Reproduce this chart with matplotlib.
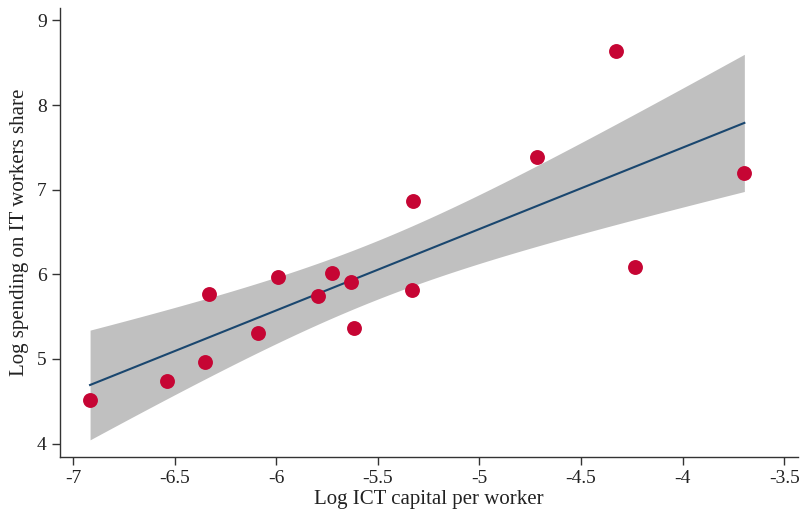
import numpy as np
import matplotlib
matplotlib.use("Agg")
import matplotlib.pyplot as plt

plt.rcParams['font.family'] = ['Liberation Serif', 'DejaVu Serif']

# log ICT capital per worker vs log spending on IT workers share
ict_capital = [-6.916, -6.536, -6.350, -6.330, -6.089, -5.992, -5.794, -5.723,
               -5.632, -5.618, -5.332, -5.327, -4.717, -4.329, -4.232, -3.696]
it_spending = [4.512, 4.734, 4.966, 5.763, 5.302, 5.972, 5.747, 6.012,
               5.905, 5.364, 5.814, 6.867, 7.392, 8.643, 6.083, 7.202]

x_ticks = [-7, -6.5, -6, -5.5, -5, -4.5, -4, -3.5]
x_ticklabels = ['-7', '-6.5', '-6', '-5.5', '-5', '-4.5', '-4', '-3.5']
y_ticks = [4, 5, 6, 7, 8, 9]

x = np.array(ict_capital)
y = np.array(it_spending)
n = len(x)

# OLS fit with 95% confidence band for the mean
slope, intercept = np.polyfit(x, y, 1)
resid = y - (intercept + slope * x)
s2 = resid @ resid / (n - 2)
t_crit = 2.1448  # t(0.975, df=14)
grid = np.linspace(x.min(), x.max(), 200)
fit = intercept + slope * grid
se = np.sqrt(s2 * (1 / n + (grid - x.mean()) ** 2 / ((x - x.mean()) ** 2).sum()))

fig = plt.figure(figsize=(8, 5.2), dpi=100)
ax = fig.add_axes([0.075, 0.121, 0.923, 0.864])

ax.fill_between(grid, fit - t_crit * se, fit + t_crit * se,
                color='#c0c0c0', linewidth=0, zorder=1)
ax.plot(grid, fit, color='#1a476f', linewidth=1.5, zorder=2)
ax.scatter(x, y, s=115, color='#c60534', linewidths=0, zorder=3)

ax.set_xlim(-7.064, -3.43)
ax.set_ylim(3.84, 9.15)
ax.set_xticks(x_ticks)
ax.set_xticklabels(x_ticklabels)
ax.set_yticks(y_ticks)

for side in ['top', 'right']:
    ax.spines[side].set_visible(False)
for side in ['left', 'bottom']:
    ax.spines[side].set_color('#333333')
    ax.spines[side].set_linewidth(1.0)

ax.tick_params(direction='out', length=6, width=1, color='#333333',
               labelsize=14, labelcolor='#222222')
ax.set_xlabel('Log ICT capital per worker', fontsize=15, color='#222222', labelpad=2)
ax.set_ylabel('Log spending on IT workers share', fontsize=15, color='#222222', labelpad=6)

fig.savefig('out.png', dpi=100)
